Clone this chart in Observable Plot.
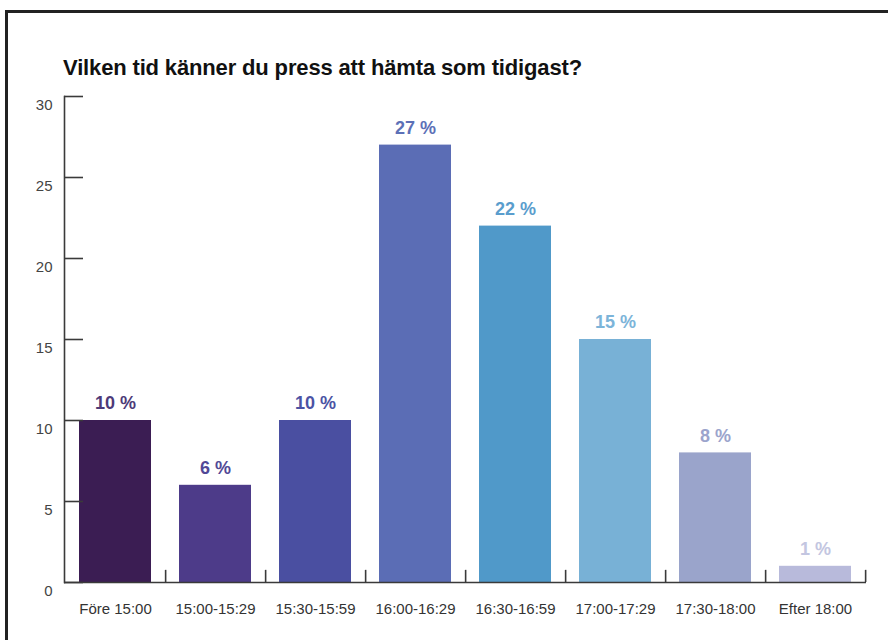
<!DOCTYPE html>
<html>
<head>
<meta charset="utf-8">
<script src="https://cdn.jsdelivr.net/npm/d3@7"></script>
<script src="https://cdn.jsdelivr.net/npm/@observablehq/plot@0.6"></script>
<style>
  html, body { margin: 0; padding: 0; background: #fff; width: 888px; height: 640px; overflow: hidden; }
  body { position: relative; font-family: "Liberation Sans", Arial, Helvetica, sans-serif; }
  #frame { position: absolute; left: 5px; top: 10px; right: -10px; bottom: -10px;
           border-top: 3px solid #222; border-left: 3px solid #222; }
  #title { position: absolute; left: 63px; top: 55px; font-size: 22px; font-weight: bold;
           color: #111; letter-spacing: -0.15px; white-space: nowrap; }
  #chart { position: absolute; left: 0; top: 0; }
  #chart svg { background: transparent; }
</style>
</head>
<body>
<div id="frame"></div>
<div id="title">Vilken tid känner du press att hämta som tidigast?</div>
<div id="chart"></div>
<script>
const categories = ["Före 15:00", "15:00-15:29", "15:30-15:59", "16:00-16:29", "16:30-16:59", "17:00-17:29", "17:30-18:00", "Efter 18:00"];
const values = [10, 6, 10, 27, 22, 15, 8, 1];
const barColors = ["#3b1d53", "#4d3b89", "#4a4fa1", "#5b6db5", "#5099c9", "#78b1d6", "#9aa4cb", "#b8badb"];
const labelColors = ["#4d3a78", "#514896", "#4b53a4", "#5c70b7", "#5a9dcd", "#7cb4d9", "#9ba4cc", "#c3c6e1"];
const yTicks = [0, 5, 10, 15, 20, 25, 30];

const data = categories.map((c, i) => ({category: c, value: values[i], color: barColors[i], labelColor: labelColors[i]}));

const W = 888, H = 640, mL = 64, mR = 22, mT = 96, mB = 58;
const halfStep = (W - mL - mR) / categories.length / 2;
const axisColor = "#3a3a3a";

const chart = Plot.plot({
  width: W,
  height: H,
  marginLeft: mL,
  marginRight: mR,
  marginTop: mT,
  marginBottom: mB,
  style: {background: "transparent", fontFamily: "'Liberation Sans', Arial, Helvetica, sans-serif"},
  x: {domain: categories, paddingInner: 0.28, paddingOuter: 0.14, label: null},
  y: {domain: [0, 30], label: null},
  marks: [
    Plot.barY(data, {x: "category", y: "value", fill: "color"}),
    Plot.text(data, {x: "category", y: "value", text: d => d.value + " %", dy: -17, fill: "labelColor",
      fontSize: 18, fontWeight: "bold", lineAnchor: "middle"}),
    Plot.frame({anchor: "left", stroke: axisColor, strokeWidth: 1.6}),
    Plot.ruleY([0], {stroke: axisColor, strokeWidth: 1.6}),
    Plot.ruleX(categories, {x: d => d, dx: halfStep, y1: 0, y2: 0.75, stroke: axisColor, strokeWidth: 1.6}),
    Plot.axisY(yTicks, {tickSize: -19, text: null, stroke: axisColor, strokeWidth: 1.6}),
    Plot.axisY(yTicks, {tickSize: 0, tickPadding: 12, dy: 9, fontSize: 15, fill: "#444", label: null}),
    Plot.axisX({tickSize: 0, tickPadding: 21, fontSize: 15, fill: "#333", label: null})
  ]
});
document.getElementById("chart").appendChild(chart);
</script>
</body>
</html>
